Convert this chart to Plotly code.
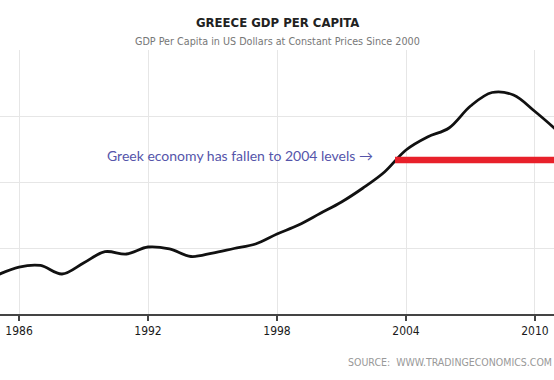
import plotly.graph_objects as go

years = list(range(1985, 2012))
gdp_per_capita = [7182, 7424, 7470, 7212, 7545, 7888, 7818, 8030, 7970, 7742,
                  7848, 7985, 8121, 8424, 8697, 9045, 9394, 9818, 10303, 10970,
                  11364, 11636, 12303, 12712, 12636, 12136, 11576]

level_years = [2003.49, 2012]
level_values = [10667, 10667]

tick_years = [1986, 1992, 1998, 2004, 2010]
tick_labels = ["1986", "1992", "1998", "2004", "2010"]

fig = go.Figure()
fig.add_trace(go.Scatter(x=years, y=gdp_per_capita, mode="lines",
                         line=dict(color="#111111", width=2.8, shape="spline", smoothing=1.0),
                         hoverinfo="skip", showlegend=False))
fig.add_trace(go.Scatter(x=level_years, y=level_values, mode="lines",
                         line=dict(color="#e8202a", width=6.5),
                         hoverinfo="skip", showlegend=False))

narrow = "Liberation Sans Narrow, DejaVu Sans Condensed, Arial Narrow, sans-serif"
cond = "DejaVu Sans Condensed, DejaVu Sans, sans-serif"

fig.update_layout(
    width=554, height=380,
    margin=dict(l=0, r=0, t=50, b=66),
    paper_bgcolor="white", plot_bgcolor="white",
    showlegend=False,
    hovermode=False,
    xaxis=dict(range=[1985.116, 2010.884], tickvals=tick_years, ticktext=tick_labels,
               showgrid=True, gridcolor="#e6e6e6", gridwidth=1,
               showline=True, linecolor="#444444", linewidth=1.5,
               ticks="outside", ticklen=5, tickcolor="#444444", tickwidth=1.5,
               tickfont=dict(family=cond, size=12, color="#1a1a1a"),
               zeroline=False, fixedrange=True),
    yaxis=dict(range=[6000, 14000], tickvals=[8000, 10000, 12000, 14000],
               showticklabels=False, showgrid=True, gridcolor="#e6e6e6", gridwidth=1,
               zeroline=False, showline=False, fixedrange=True),
    annotations=[
        dict(text="<b>GREECE GDP PER CAPITA</b>", xref="paper", yref="paper",
             x=0.5, y=1.104, xanchor="center", yanchor="middle", showarrow=False,
             font=dict(family=narrow, size=13, color="#222222")),
        dict(text="GDP Per Capita in US Dollars at Constant Prices Since 2000", xref="paper", yref="paper",
             x=0.5, y=1.034, xanchor="center", yanchor="middle", showarrow=False,
             font=dict(family=cond, size=10.7, color="#777777")),
        dict(text="SOURCE:  WWW.TRADINGECONOMICS.COM", xref="paper", yref="paper",
             x=1.0, y=-0.182, xanchor="right", yanchor="middle", showarrow=False,
             font=dict(family=narrow, size=10.5, color="#999999")),
        dict(text="Greek economy has fallen to 2004 levels \u2192", x=1990.0, y=10818,
             xanchor="left", yanchor="middle", showarrow=False,
             font=dict(family="Lato", size=14, color="#5555aa")),
    ],
)

fig.write_html("out.html", config={"displayModeBar": False, "staticPlot": True},
               post_script="document.body.style.margin='0px';")
